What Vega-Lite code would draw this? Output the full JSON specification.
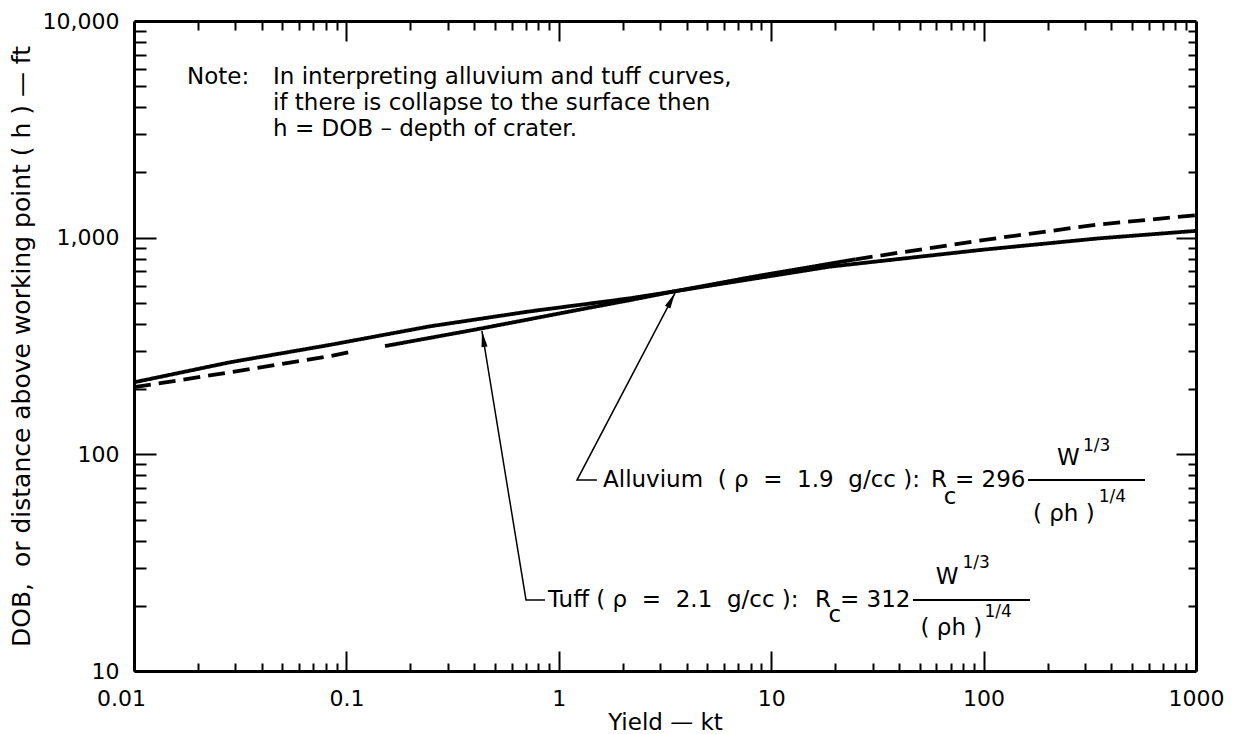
{
  "$schema": "https://vega.github.io/schema/vega-lite/v6.json",
  "width": 1062,
  "height": 650,
  "autosize": {"type": "none"},
  "padding": {"left": 134, "top": 21, "right": 40, "bottom": 63},
  "background": "white",
  "config": {"view": {"stroke": null}, "font": "DejaVu Sans"},
  "datasets": {
    "curves": [
      {"seg": "A", "style": "solid", "W": 0.01, "R": 215},
      {"seg": "A", "style": "solid", "W": 0.0283, "R": 266},
      {"seg": "A", "style": "solid", "W": 0.0837, "R": 320},
      {"seg": "A", "style": "solid", "W": 0.248, "R": 390},
      {"seg": "A", "style": "solid", "W": 0.732, "R": 457},
      {"seg": "A", "style": "solid", "W": 2.164, "R": 525},
      {"seg": "A", "style": "solid", "W": 3.6, "R": 568},
      {"seg": "A", "style": "solid", "W": 18.9, "R": 735},
      {"seg": "A", "style": "solid", "W": 99.4, "R": 880},
      {"seg": "A", "style": "solid", "W": 345.7, "R": 992},
      {"seg": "A", "style": "solid", "W": 1000, "R": 1075},
      {"seg": "B1", "style": "dashed", "W": 0.01, "R": 204},
      {"seg": "B1", "style": "dashed", "W": 0.0283, "R": 239},
      {"seg": "B1", "style": "dashed", "W": 0.0837, "R": 284},
      {"seg": "B1", "style": "dashed", "W": 0.1098, "R": 300},
      {"seg": "B2", "style": "solid", "W": 0.152, "R": 316},
      {"seg": "B2", "style": "solid", "W": 0.4256, "R": 380},
      {"seg": "B2", "style": "solid", "W": 1.258, "R": 466},
      {"seg": "B2", "style": "solid", "W": 2.164, "R": 515},
      {"seg": "B2", "style": "solid", "W": 3.6, "R": 568},
      {"seg": "B2", "style": "solid", "W": 8.21, "R": 660},
      {"seg": "B2", "style": "solid", "W": 25, "R": 795},
      {"seg": "B3", "style": "dashed", "W": 25, "R": 795},
      {"seg": "B3", "style": "dashed", "W": 99.4, "R": 975},
      {"seg": "B3", "style": "dashed", "W": 345.7, "R": 1150},
      {"seg": "B3", "style": "dashed", "W": 1000, "R": 1270}
    ],
    "leaders": [
      {"id": "T", "i": 0, "W": 0.4346, "R": 371},
      {"id": "T", "i": 1, "W": 0.7008, "R": 21.27},
      {"id": "T", "i": 2, "W": 0.861, "R": 21.27},
      {"id": "A", "i": 0, "W": 3.525, "R": 555},
      {"id": "A", "i": 1, "W": 1.218, "R": 76.1},
      {"id": "A", "i": 2, "W": 1.512, "R": 76.1}
    ],
    "heads": [
      {"id": "T", "W": 0.441, "R": 340.7},
      {"id": "A", "W": 3.386, "R": 515}
    ],
    "bars": [
      {"id": "A", "W1": 161.8, "W2": 575.4, "R": 76.1},
      {"id": "T", "W1": 46.5, "W2": 165.4, "R": 21.27}
    ],
    "labels": [
      {"role": "main", "W": 0.01776, "R": 5514, "text": "Note:"},
      {"role": "main", "W": 0.04513, "R": 5514, "text": "In interpreting alluvium and tuff curves,"},
      {"role": "main", "W": 0.04513, "R": 4183, "text": "if there is collapse to the surface then"},
      {"role": "main", "W": 0.04513, "R": 3173, "text": "h = DOB – depth of crater."},
      {"role": "main", "W": 1.615, "R": 76.1, "text": "Alluvium\u00a0\u00a0( ρ\u00a0\u00a0=\u00a0\u00a01.9\u00a0\u00a0g/cc ):"},
      {"role": "main", "W": 56.5, "R": 76.1, "text": "R"},
      {"role": "main", "W": 65.0, "R": 63.55, "text": "c"},
      {"role": "main", "W": 73.3, "R": 76.1, "text": "= 296"},
      {"role": "main", "W": 221.6, "R": 96.2, "text": "W"},
      {"role": "sup", "W": 293.8, "R": 109.3, "text": "1/3"},
      {"role": "main", "W": 170.8, "R": 53.0, "text": "( ρh )"},
      {"role": "sup", "W": 348, "R": 63.55, "text": "1/4"},
      {"role": "main", "W": 0.8897, "R": 21.27, "text": "Tuff ( ρ\u00a0\u00a0=\u00a0\u00a02.1\u00a0\u00a0g/cc ):"},
      {"role": "main", "W": 16.08, "R": 21.27, "text": "R"},
      {"role": "main", "W": 18.6, "R": 18.13, "text": "c"},
      {"role": "main", "W": 21.08, "R": 21.27, "text": "= 312"},
      {"role": "main", "W": 59.5, "R": 27.15, "text": "W"},
      {"role": "sup", "W": 79.5, "R": 31.5, "text": "1/3"},
      {"role": "main", "W": 50.5, "R": 15.79, "text": "( ρh )"},
      {"role": "sup", "W": 101, "R": 18.72, "text": "1/4"}
    ]
  },
  "resolve": {"axis": {"x": "independent", "y": "independent"}},
  "layer": [
    {
      "data": {"name": "curves"},
      "mark": {"type": "line", "color": "black", "strokeWidth": 3.8, "strokeCap": "butt"},
      "encoding": {
        "x": {"field": "W", "type": "quantitative",
          "scale": {"type": "log", "domain": [0.01, 1000], "nice": false},
          "axis": {"orient": "bottom", "values": [0.01, 0.1, 1, 10, 100, 1000], "format": "~g",
            "tickSize": -20, "tickWidth": 2, "tickColor": "black",
            "domain": true, "domainWidth": 3, "domainColor": "black",
            "labelFont": "DejaVu Sans", "labelFontSize": 22, "labelColor": "black",
            "labelPadding": 37, "labelFlush": false, "labelOverlap": false, "labelBound": false,
            "labelOffset": {"condition": {"test": "datum.value < 0.02", "value": -13}, "value": 0},
            "grid": false, "title": "Yield — kt", "titleFont": "DejaVu Sans", "titleFontSize": 23,
            "titleFontWeight": "normal", "titleColor": "black", "titlePadding": 2}},
        "y": {"field": "R", "type": "quantitative",
          "scale": {"type": "log", "domain": [10, 10000], "nice": false},
          "axis": {"orient": "left", "values": [10, 100, 1000, 10000], "format": ",",
            "tickSize": -22, "tickWidth": 2, "tickColor": "black",
            "domain": true, "domainWidth": 3, "domainColor": "black",
            "labelFont": "DejaVu Sans", "labelFontSize": 22, "labelColor": "black",
            "labelPadding": 37, "labelFlush": false, "labelOverlap": false, "labelBound": false,
            "grid": false, "title": "DOB,\u00a0\u00a0or distance above working point ( h ) — ft",
            "titleFont": "DejaVu Sans", "titleFontSize": 25, "titleFontWeight": "normal",
            "titleColor": "black", "titlePadding": 8}},
        "detail": {"field": "seg"},
        "strokeDash": {"field": "style", "type": "nominal",
          "scale": {"domain": ["solid", "dashed"], "range": [[1, 0], [17, 8]]}, "legend": null}
      }
    },
    {
      "data": {"name": "leaders"},
      "mark": {"type": "line", "color": "black", "strokeWidth": 1.5},
      "encoding": {
        "x": {"field": "W", "type": "quantitative",
          "scale": {"type": "log", "domain": [0.01, 1000], "nice": false},
          "axis": {"orient": "bottom",
            "values": [0.02, 0.03, 0.04, 0.05, 0.06, 0.07, 0.08, 0.09, 0.2, 0.3, 0.4, 0.5, 0.6, 0.7, 0.8, 0.9, 2, 3, 4, 5, 6, 7, 8, 9, 20, 30, 40, 50, 60, 70, 80, 90, 200, 300, 400, 500, 600, 700, 800, 900],
            "tickSize": -8, "tickWidth": 2, "tickColor": "black", "labels": false, "domain": false, "grid": false, "title": null}},
        "y": {"field": "R", "type": "quantitative",
          "scale": {"type": "log", "domain": [10, 10000], "nice": false},
          "axis": {"orient": "left",
            "values": [20, 30, 40, 50, 60, 70, 80, 90, 200, 300, 400, 500, 600, 700, 800, 900, 2000, 3000, 4000, 5000, 6000, 7000, 8000, 9000],
            "tickSize": -12, "tickWidth": 2, "tickColor": "black", "labels": false, "domain": false, "grid": false, "title": null}},
        "detail": {"field": "id"},
        "order": {"field": "i"}
      }
    },
    {
      "data": {"name": "bars"},
      "mark": {"type": "rule", "color": "black", "strokeWidth": 2},
      "encoding": {
        "x": {"field": "W1", "type": "quantitative",
          "scale": {"type": "log", "domain": [0.01, 1000], "nice": false},
          "axis": {"orient": "top", "values": [0.1, 1, 10, 100],
            "tickSize": -20, "tickWidth": 2, "tickColor": "black", "labels": false,
            "domain": true, "domainWidth": 3, "domainColor": "black", "grid": false, "title": null}},
        "x2": {"field": "W2"},
        "y": {"field": "R", "type": "quantitative",
          "scale": {"type": "log", "domain": [10, 10000], "nice": false},
          "axis": {"orient": "right", "values": [100, 1000],
            "tickSize": -20, "tickWidth": 2, "tickColor": "black", "labels": false,
            "domain": true, "domainWidth": 3, "domainColor": "black", "grid": false, "title": null}}
      }
    },
    {
      "data": {"name": "heads"},
      "transform": [{"filter": "datum.id == 'T'"}],
      "mark": {"type": "point", "shape": "M0,-1L0.38,1L-0.38,1Z", "size": 256, "angle": 351, "filled": true, "color": "black", "opacity": 1},
      "encoding": {
        "x": {"field": "W", "type": "quantitative",
          "scale": {"type": "log", "domain": [0.01, 1000], "nice": false},
          "axis": {"orient": "top",
            "values": [0.02, 0.03, 0.04, 0.05, 0.06, 0.07, 0.08, 0.09, 0.2, 0.3, 0.4, 0.5, 0.6, 0.7, 0.8, 0.9, 2, 3, 4, 5, 6, 7, 8, 9, 20, 30, 40, 50, 60, 70, 80, 90, 200, 300, 400, 500, 600, 700, 800, 900],
            "tickSize": -9, "tickWidth": 2, "tickColor": "black", "labels": false, "domain": false, "grid": false, "title": null}},
        "y": {"field": "R", "type": "quantitative",
          "scale": {"type": "log", "domain": [10, 10000], "nice": false},
          "axis": {"orient": "right",
            "values": [20, 30, 40, 50, 60, 70, 80, 90, 200, 300, 400, 500, 600, 700, 800, 900, 2000, 3000, 4000, 5000, 6000, 7000, 8000, 9000],
            "tickSize": -8, "tickWidth": 2, "tickColor": "black", "labels": false, "domain": false, "grid": false, "title": null}}
      }
    },
    {
      "data": {"name": "heads"},
      "transform": [{"filter": "datum.id == 'A'"}],
      "mark": {"type": "point", "shape": "M0,-1L0.38,1L-0.38,1Z", "size": 256, "angle": 27, "filled": true, "color": "black", "opacity": 1},
      "encoding": {
        "x": {"field": "W", "type": "quantitative", "scale": {"type": "log", "domain": [0.01, 1000], "nice": false}, "axis": null},
        "y": {"field": "R", "type": "quantitative", "scale": {"type": "log", "domain": [10, 10000], "nice": false}, "axis": null}
      }
    },
    {
      "data": {"name": "labels"},
      "transform": [{"filter": "datum.role == 'main'"}],
      "mark": {"type": "text", "align": "left", "baseline": "middle", "font": "DejaVu Sans", "fontSize": 23, "color": "black"},
      "encoding": {
        "x": {"field": "W", "type": "quantitative", "scale": {"type": "log", "domain": [0.01, 1000], "nice": false}, "axis": null},
        "y": {"field": "R", "type": "quantitative", "scale": {"type": "log", "domain": [10, 10000], "nice": false}, "axis": null},
        "text": {"field": "text"}
      }
    },
    {
      "data": {"name": "labels"},
      "transform": [{"filter": "datum.role == 'sup'"}],
      "mark": {"type": "text", "align": "left", "baseline": "middle", "font": "DejaVu Sans", "fontSize": 17, "color": "black"},
      "encoding": {
        "x": {"field": "W", "type": "quantitative", "scale": {"type": "log", "domain": [0.01, 1000], "nice": false}, "axis": null},
        "y": {"field": "R", "type": "quantitative", "scale": {"type": "log", "domain": [10, 10000], "nice": false}, "axis": null},
        "text": {"field": "text"}
      }
    }
  ]
}
